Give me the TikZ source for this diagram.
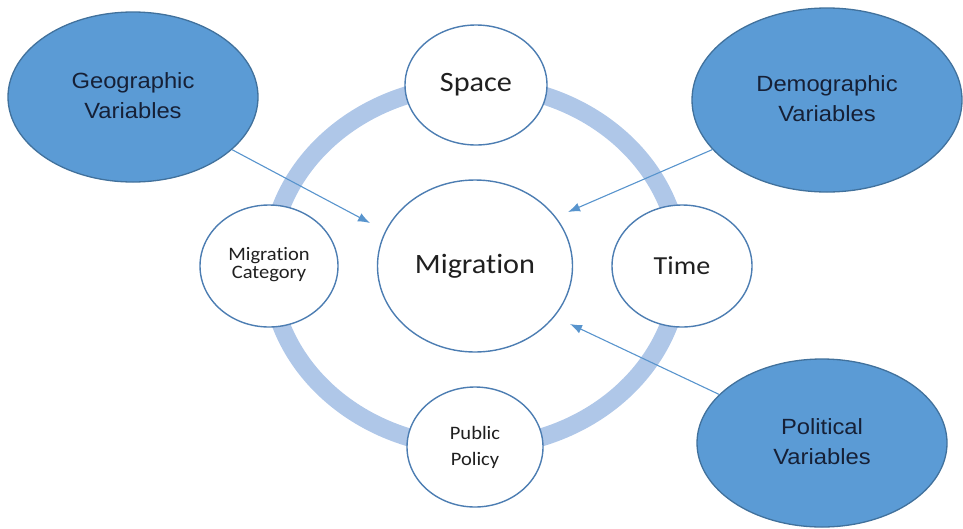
\documentclass[tikz,border=0pt]{standalone}
\usepackage{fontspec}
\usepackage{graphicx}
\setmainfont[Ligatures=NoCommon]{Carlito}
\newfontfamily\arialf{Liberation Sans}
\usetikzlibrary{arrows.meta,shapes.geometric}
\definecolor{ringblue}{RGB}{175,199,232}
\definecolor{fillblue}{RGB}{91,155,213}
\definecolor{edgeblue}{RGB}{65,113,156}
\definecolor{circedge}{RGB}{76,125,178}
\definecolor{arrowblue}{RGB}{88,148,205}
\definecolor{navytext}{RGB}{22,32,54}
\definecolor{greytext}{RGB}{32,32,32}
\newcommand{\sx}[1]{\scalebox{1.08}[1]{#1}}
\newcommand{\twol}[2]{\begin{tabular}{@{}c@{}}#1\\#2\end{tabular}}
\begin{document}
\begin{tikzpicture}[x=1pt,y=-1pt,
  varell/.style={ellipse, draw=edgeblue, line width=1.3pt, fill=fillblue, inner sep=0pt,
     text=navytext, font=\arialf\fontsize{22}{30}\selectfont},
  topic/.style={ellipse, draw=circedge, line width=1.4pt, fill=white, inner sep=0pt,
     text=greytext},
  infl/.style={draw=arrowblue, line width=1.1pt, -{Latex[length=12pt,width=9pt]}}
]
\useasboundingbox (0,0) rectangle (963,528);
% ring
\draw[ringblue, line width=18pt] (475,266) ellipse [x radius=205, y radius=181];
% topic circles
\node[topic, minimum width=195pt, minimum height=172pt, font=\fontsize{28}{30}\selectfont] (mig) at (475,266) {\sx{Migration}};
\node[topic, minimum width=142pt, minimum height=120pt, font=\fontsize{28}{30}\selectfont] (space) at (476,85) {\sx{Space}};
\node[topic, minimum width=140pt, minimum height=122pt, font=\fontsize{26}{30}\selectfont] (time) at (682,266) {\sx{Time}};
\node[topic, minimum width=138pt, minimum height=122pt, font=\fontsize{19}{18}\selectfont] (cat) at (269,266) {\sx{\twol{Migration}{Category}}};
\node[topic, minimum width=136pt, minimum height=120pt, font=\fontsize{19}{26}\selectfont] (pol) at (475,447) {\sx{\twol{Public}{Policy}}};
% variable ellipses
\node[varell, minimum width=250pt, minimum height=170pt] (geo) at (133,97) {\sx{\twol{Geographic}{Variables}}};
\node[varell, minimum width=270pt, minimum height=184pt] (demo) at (827,100) {\sx{\twol{Demographic}{Variables}}};
\node[varell, minimum width=250pt, minimum height=168pt] (polit) at (822,443) {\sx{\twol{Political}{Variables}}};
% arrow tips
\coordinate (tgeo) at (370,223);
\coordinate (tdemo) at (568,212);
\coordinate (tpolit) at (570,324);
\draw[infl] (geo) -- (tgeo);
\draw[infl] (demo) -- (tdemo);
\draw[infl] (polit) -- (tpolit);
\end{tikzpicture}
\end{document}
